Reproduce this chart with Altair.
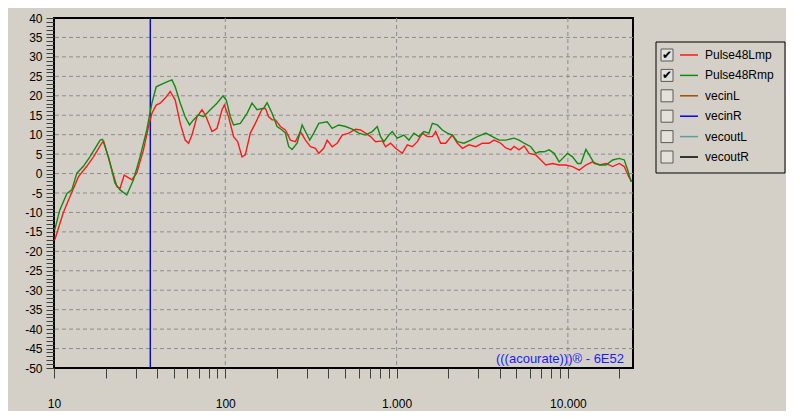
import altair as alt
import pandas as pd

# ---------------- data ----------------
red_freq = [10.1, 11.3, 12.4, 13.9, 15.5, 17.0, 19.0, 19.5, 21.8, 23.3, 24.3, 25.7, 28.5, 30.4, 33.3, 35.6,
            37.3, 39.5, 41.7, 44.6, 47.7, 51.0, 54.6, 58.3, 61.0, 63.9, 68.3, 73.1, 76.4, 83.6, 89.4, 95.7,
            98.7, 104.5, 111.8, 118.0, 125.2, 130.9, 140.0, 149.8, 163.9, 171.4, 179.2, 187.6, 196.1, 209.7,
            224.3, 240.0, 256.7, 274.6, 293.7, 314.2, 336.0, 351.3, 375.7, 393.3, 420.7, 450.0, 481.4, 526.2,
            575.8, 615.8, 658.7, 704.7, 753.8, 825.0, 862.5, 922.4, 986.7, 1080, 1155, 1235, 1322, 1413, 1512,
            1617, 1691, 1809, 1934, 2117, 2265, 2423, 2648, 2897, 3171, 3466, 3707, 4057, 4340, 4643, 4853,
            5191, 5553, 5938, 6501, 6952, 7433, 8140, 8895, 9734, 10654, 11644, 12744, 13948, 15241, 16681,
            18258, 19953, 21339, 22649, 23685]
red_db = [-17.1, -10.2, -5.9, -0.8, 1.8, 4.3, 7.8, 8.3, 0.9, -3.4, -3.8, -0.4, -1.6, 0.1, 6.1, 12.0,
          15.5, 17.6, 18.1, 19.4, 21.1, 18.9, 12.9, 8.6, 7.8, 9.9, 14.6, 16.4, 15.1, 10.8, 11.6, 16.4,
          17.6, 14.6, 9.5, 8.2, 4.3, 4.8, 10.4, 12.9, 16.6, 16.8, 14.6, 13.8, 13.8, 12.1,
          11.2, 8.6, 8.2, 10.8, 8.6, 6.9, 6.5, 5.2, 6.5, 8.6, 6.9, 7.8, 9.9, 10.4,
          11.4, 11.2, 10.4, 9.5, 8.2, 8.4, 6.9, 7.8, 6.5, 5.2, 7.4, 6.9, 8.2, 10.4, 9.5,
          9.5, 10.8, 7.8, 7.8, 9.9, 7.8, 6.5, 7.4, 6.9, 7.8, 7.8, 8.6, 7.8, 6.6, 6.1, 7.0,
          6.1, 7.1, 5.2, 4.8, 3.5, 2.2, 2.6, 2.2, 2.2, 1.8, 0.9, 2.2, 3.0, 2.2, 2.6,
          1.8, 2.6, 1.8, -0.8, -2.1]

green_freq = [10.1, 10.8, 11.9, 12.7, 13.6, 14.8, 16.2, 18.6, 19.2, 20.8, 22.7, 24.3, 26.6, 29.1, 31.8, 34.8,
              37.3, 39.5, 41.7, 45.6, 48.8, 51.0, 54.6, 58.3, 61.8, 65.2, 69.8, 74.7, 81.7, 89.4, 96.9, 101.3,
              107.0, 111.8, 122.4, 134.0, 143.3, 153.2, 167.5, 175.4, 187.6, 200.6, 214.6, 224.3, 234.6, 245.5,
              262.6, 280.9, 293.7, 311.2, 328.5, 351.3, 393.3, 420.7, 459.8, 503.3, 550.8, 601.9, 658.7, 721.0,
              771.2, 806.3, 842.9, 901.6, 943.8, 1009, 1103, 1180, 1262, 1350, 1444, 1545, 1617, 1730, 1851,
              1979, 2117, 2265, 2475, 2709, 2964, 3315, 3628, 3965, 4340, 4853, 5191, 5553, 6076, 6501, 6797,
              7269, 7775, 8317, 8895, 9959, 10654, 11395, 11913, 12744, 13324, 14253, 15596, 16681, 18258,
              19953, 21339, 22344, 23365]
green_db = [-14.5, -9.4, -5.1, -4.2, 0.1, 1.8, 4.3, 8.6, 8.8, 4.3, -2.5, -4.2, -5.5, -1.6, 4.3, 11.2,
            18.1, 22.3, 22.8, 23.6, 24.1, 22.3, 18.1, 14.6, 12.5, 13.8, 15.1, 14.6, 16.4, 18.1, 20.0, 18.9,
            14.6, 12.5, 12.9, 15.5, 18.1, 16.4, 16.8, 18.2, 15.5, 12.1, 11.2, 10.4, 6.9, 6.2,
            7.8, 12.5, 10.8, 8.6, 10.4, 12.9, 13.3, 11.6, 12.5, 12.1, 11.4, 10.4, 9.9, 10.8,
            12.1, 9.5, 8.2, 9.9, 10.8, 9.1, 9.9, 8.6, 10.4, 9.5, 10.8, 10.4, 12.9, 12.5, 11.2,
            10.4, 9.9, 8.2, 7.8, 8.6, 9.5, 10.4, 9.5, 8.6, 8.6, 9.1, 8.6, 7.8, 6.9, 5.2, 5.6,
            5.6, 6.1, 5.2, 3.0, 5.2, 4.3, 2.6, 2.6, 6.2, 4.8, 2.6, 2.2, 2.2, 3.5,
            3.9, 3.5, 0.9, -2.1]

series_names = ["Pulse48Lmp", "Pulse48Rmp", "vecinL", "vecinR", "vecoutL", "vecoutR"]
series_colors = ["#ff1a1a", "#138a13", "#a04c00", "#0000ff", "#5f9ea0", "#000000"]
series_checked = [True, True, False, False, False, False]

marker_freq = [36.5]
grid_db = [-45, -40, -35, -30, -25, -20, -15, -10, -5, 0, 5, 10, 15, 20, 25, 30, 35]
grid_freq = [100, 1000, 10000]
y_ticks = list(range(-50, 41))
x_ticks = [10, 20, 30, 40, 50, 60, 70, 80, 90,
           100, 200, 300, 400, 500, 600, 700, 800, 900,
           1000, 2000, 3000, 4000, 5000, 6000, 7000, 8000, 9000,
           10000, 20000]
x_tick_labels = {10: "10", 100: "100", 1000: "1.000", 10000: "10.000"}
watermark = "(((acourate)))® - 6E52"

# ---------------- frames ----------------
curves = pd.concat([
    pd.DataFrame({"freq": red_freq, "db": red_db, "series": "Pulse48Lmp", "order": 1}),
    pd.DataFrame({"freq": green_freq, "db": green_db, "series": "Pulse48Rmp", "order": 0}),
])
legend_df = pd.DataFrame({"series": series_names, "checked": series_checked})
legend_df["mark"] = ["✔" if c else "" for c in series_checked]

BG = "#D4D0C8"
FONT = "Liberation Sans"

x_scale = alt.Scale(type="log", domain=[10, 24000], nice=False)
y_scale = alt.Scale(domain=[-50, 40], nice=False)
color_scale = alt.Scale(domain=series_names, range=series_colors)

label_expr = " : ".join(f"datum.value == {k} ? '{v}'" for k, v in x_tick_labels.items()) + " : ''"

x_axis = alt.Axis(values=x_ticks, labelExpr=label_expr, grid=False, domain=False, tickSize=10,
                  tickColor="#404040", labelPadding=20, labelFlush=False, labelOverlap=False,
                  labelFont=FONT, labelFontSize=12, labelColor="black", title=None)
y_axis = alt.Axis(values=y_ticks, labelExpr="datum.value % 5 == 0 ? '' + datum.value : ''", grid=False,
                  domain=False, tickSize=8, tickColor="#404040", labelPadding=4, labelOverlap=False,
                  labelFlush=False, labelBound=False, labelFont=FONT, labelFontSize=12,
                  labelColor="black", title=None)

X = lambda f: alt.X(f, scale=x_scale, axis=x_axis)
Y = lambda f: alt.Y(f, scale=y_scale, axis=y_axis)

hgrid = alt.Chart(pd.DataFrame({"g": grid_db})).mark_rule(
    color="#8c8c8c", strokeDash=[4, 3], strokeWidth=1
).encode(y=Y("g:Q"))

vgrid = alt.Chart(pd.DataFrame({"f": grid_freq})).mark_rule(
    color="#8c8c8c", strokeDash=[4, 3], strokeWidth=1
).encode(x=X("f:Q"))

marker = alt.Chart(pd.DataFrame({"f": marker_freq})).mark_rule(
    color="#1010a8", strokeWidth=1.5
).encode(x=X("f:Q"))

lines = alt.Chart(curves).mark_line(strokeWidth=1.4, interpolate="linear").encode(
    x=X("freq:Q"),
    y=Y("db:Q"),
    color=alt.Color("series:N", scale=color_scale, legend=None),
    detail="series:N",
    order=alt.Order("order:Q"),
)

wm = alt.Chart(pd.DataFrame({"t": [watermark]})).mark_text(
    align="right", baseline="middle", font=FONT, fontSize=13, color="#1c1cff"
).encode(text="t:N", x=alt.value(570), y=alt.value(341))

# ---------------- custom legend (checkbox list) ----------------
leg_y = alt.Y("series:N", sort=series_names, scale=alt.Scale(type="point", range=[37, 139], padding=0),
              axis=None)

leg_box = alt.Chart(pd.DataFrame({"a": [0]})).mark_rect(
    fill=BG, stroke="black", strokeWidth=1
).encode(x=alt.value(602), x2=alt.value(731), y=alt.value(24), y2=alt.value(155))

leg_check = alt.Chart(legend_df).mark_square(
    size=144, fill="#e4e1da", stroke="#5a5a5a", strokeWidth=1, opacity=1
).encode(x=alt.value(613), y=leg_y)

leg_tick = alt.Chart(legend_df).mark_text(
    font="DejaVu Sans", fontSize=12, color="black", align="center", baseline="middle"
).encode(x=alt.value(613), y=leg_y, text="mark:N")

leg_line = alt.Chart(legend_df).mark_rule(strokeWidth=1.5).encode(
    x=alt.value(626), x2=alt.value(644), y=leg_y,
    color=alt.Color("series:N", scale=color_scale, legend=None),
)

leg_text = alt.Chart(legend_df).mark_text(
    font=FONT, fontSize=12, color="black", align="left", baseline="middle"
).encode(x=alt.value(651), y=leg_y, text="series:N")

legend_layer = alt.layer(leg_box, leg_check, leg_tick, leg_line, leg_text)

main = alt.layer(hgrid, vgrid, marker, lines, wm)

chart = alt.layer(main, legend_layer).resolve_scale(y="independent").properties(
    width=579, height=350,
    autosize=alt.AutoSizeParams(type="none"),
    padding={"left": 46, "top": 10, "right": 153, "bottom": 43},
    background=BG,
).configure_view(
    stroke="black", strokeWidth=2, fill=BG
).configure_axis(
    labelOverlap=False
)

chart.save("out.html", embed_options={"renderer": "svg", "actions": False})
